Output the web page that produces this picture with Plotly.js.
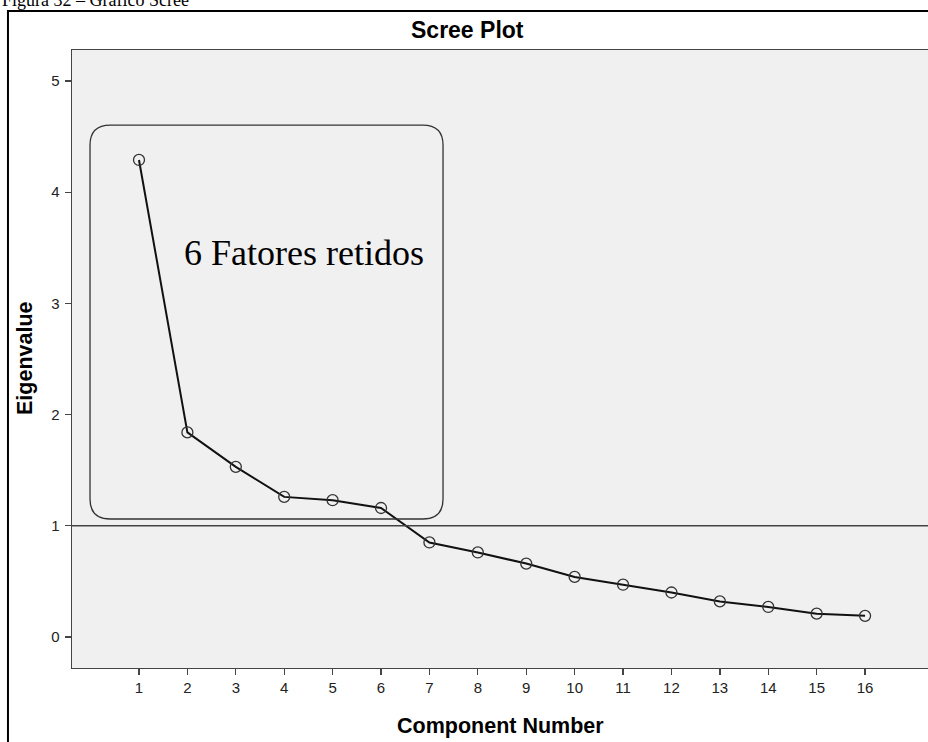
<!DOCTYPE html>
<html>
<head>
<meta charset="utf-8">
<script src="https://cdn.plot.ly/plotly-3.0.1.min.js"></script>
<style>
html,body{margin:0;padding:0;background:#fff;}
#chart{width:928px;height:742px;}
</style>
</head>
<body>
<div id="chart"></div>
<script>
// Data
var components = [1,2,3,4,5,6,7,8,9,10,11,12,13,14,15,16];
var eigenvalues = [4.29,1.84,1.53,1.26,1.23,1.16,0.85,0.76,0.66,0.54,0.47,0.40,0.32,0.27,0.21,0.19];
var yTicks = [0,1,2,3,4,5];
var titleText = 'Scree Plot';
var xTitleText = 'Component Number';
var yTitleText = 'Eigenvalue';
var captionText = 'Figura 32 – Gráfico Scree';
var boxLabel = '6 Fatores retidos';
var referenceValue = 1;

var sans = 'Liberation Sans, Arial, sans-serif';
var serif = 'Liberation Serif, Times New Roman, serif';

// rounded rectangle (annotation box) in data units
var bx0 = -0.012, bx1 = 7.281, by0 = 1.061, by1 = 4.604, rx = 0.42, ry = 0.18;
var boxPath = 'M ' + (bx0+rx) + ',' + by1 +
  ' L ' + (bx1-rx) + ',' + by1 +
  ' Q ' + bx1 + ',' + by1 + ' ' + bx1 + ',' + (by1-ry) +
  ' L ' + bx1 + ',' + (by0+ry) +
  ' Q ' + bx1 + ',' + by0 + ' ' + (bx1-rx) + ',' + by0 +
  ' L ' + (bx0+rx) + ',' + by0 +
  ' Q ' + bx0 + ',' + by0 + ' ' + bx0 + ',' + (by0+ry) +
  ' L ' + bx0 + ',' + (by1-ry) +
  ' Q ' + bx0 + ',' + by1 + ' ' + (bx0+rx) + ',' + by1 + ' Z';

var trace = {
  x: components,
  y: eigenvalues,
  type: 'scatter',
  mode: 'lines+markers',
  line: {color: '#111', width: 2},
  marker: {symbol: 'circle-open', size: 11, color: '#333', line: {color: '#333', width: 1.3}},
  hoverinfo: 'x+y',
  cliponaxis: false
};

var layout = {
  width: 928, height: 742,
  margin: {l: 72, r: 0, t: 50, b: 74, pad: 0},
  paper_bgcolor: '#ffffff',
  plot_bgcolor: '#f0f0f0',
  showlegend: false,
  xaxis: {
    range: [-0.384, 17.30],
    tickmode: 'array',
    tickvals: components,
    ticktext: components.map(String),
    ticks: 'outside', ticklen: 6, tickwidth: 1.3, tickcolor: '#444',
    showgrid: false, zeroline: false,
    showline: true, linecolor: '#444', linewidth: 1.3, mirror: true,
    tickfont: {family: sans, size: 15, color: '#222'}
  },
  yaxis: {
    range: [-0.279, 5.279],
    tickmode: 'array',
    tickvals: yTicks,
    ticktext: yTicks.map(String),
    ticks: 'outside', ticklen: 6, tickwidth: 1.3, tickcolor: '#444',
    showgrid: false, zeroline: false,
    showline: true, linecolor: '#444', linewidth: 1.3, mirror: true,
    ticklabelstandoff: 2,
    tickfont: {family: sans, size: 15, color: '#222'}
  },
  shapes: [
    {type: 'rect', xref: 'paper', yref: 'paper', x0: -0.0748, x1: 1.01, y0: -0.13, y1: 1.0631,
     line: {color: '#000', width: 2}, fillcolor: 'rgba(0,0,0,0)', layer: 'below'},
    {type: 'line', xref: 'paper', yref: 'y', x0: 0, x1: 1, y0: referenceValue, y1: referenceValue,
     line: {color: '#444', width: 1.4}},
    {type: 'path', xref: 'x', yref: 'y', path: boxPath,
     line: {color: '#333', width: 1.3}, fillcolor: 'rgba(0,0,0,0)'}
  ],
  annotations: [
    {text: '<b>' + titleText + '</b>', xref: 'paper', yref: 'paper', x: 0.4626, y: 1.0324,
     xanchor: 'center', yanchor: 'middle', showarrow: false,
     font: {family: sans, size: 23, color: '#000'}},
    {text: '<b>' + xTitleText + '</b>', xref: 'paper', yref: 'paper', x: 0.501, y: -0.0939,
     xanchor: 'center', yanchor: 'middle', showarrow: false,
     font: {family: sans, size: 21.5, color: '#000'}},
    {text: '<b>' + yTitleText + '</b>', xref: 'paper', yref: 'paper', x: -0.0549, y: 0.5016,
     xanchor: 'center', yanchor: 'middle', showarrow: false, textangle: -90,
     font: {family: sans, size: 21.5, color: '#000'}},
    {text: boxLabel, xref: 'x', yref: 'y', x: 1.88, y: 3.45,
     xanchor: 'left', yanchor: 'middle', showarrow: false,
     font: {family: serif, size: 36, color: '#000'}},
    {text: captionText, xref: 'paper', yref: 'paper', x: -0.0841, y: 1.0812,
     xanchor: 'left', yanchor: 'middle', showarrow: false,
     font: {family: serif, size: 18, color: '#000'}}
  ]
};

Plotly.newPlot('chart', [trace], layout, {displayModeBar: false, staticPlot: true});
</script>
</body>
</html>
